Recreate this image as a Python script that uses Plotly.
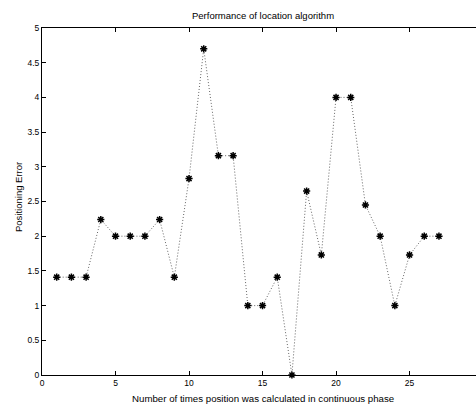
import plotly.graph_objects as go

x_vals = list(range(1, 28))
errors = [1.41, 1.41, 1.41, 2.24, 2.0, 2.0, 2.0, 2.24, 1.41, 2.83, 4.70, 3.16, 3.16,
          1.0, 1.0, 1.41, 0.0, 2.65, 1.73, 4.0, 4.0, 2.45, 2.0, 1.0, 1.73, 2.0, 2.0]

title_text = "Performance of location algorithm"
x_label = "Number of times position was calculated in continuous phase"
y_label = "Positioning Error"

fig = go.Figure()
fig.add_trace(go.Scatter(
    x=x_vals, y=errors, mode="lines+markers",
    line=dict(color="#666666", width=1, dash="1px,2px"),
    marker=dict(symbol="asterisk-open", size=6, color="black",
                line=dict(color="black", width=1.5)),
    cliponaxis=False, showlegend=False, hoverinfo="skip",
))

fam = "Liberation Sans, Arial, sans-serif"
font = dict(family=fam, size=8, color="black")

fig.update_layout(
    width=476, height=405,
    margin=dict(l=42, r=0, t=28, b=30, autoexpand=False),
    paper_bgcolor="white", plot_bgcolor="white",
    font=font,
    xaxis=dict(range=[0, 29.52], tickmode="array", tickvals=[0, 5, 10, 15, 20, 25],
               ticks="inside", ticklen=4, tickcolor="black", showline=True,
               linecolor="black", linewidth=1, mirror="ticks", showgrid=False,
               zeroline=False, tickfont=dict(size=8.5), automargin=False),
    yaxis=dict(range=[0, 5], dtick=0.5, tick0=0, ticks="inside", ticklen=4,
               tickcolor="black", showline=True, linecolor="black", linewidth=1,
               showgrid=False, zeroline=False, tickfont=dict(size=8.5), automargin=False),
    annotations=[
        dict(text=title_text, xref="paper", yref="paper", x=(262.5 - 42) / 434,
             y=1 + (28 - 15) / 347, xanchor="center", yanchor="middle",
             showarrow=False, font=dict(family=fam, size=9.5, color="black")),
        dict(text=x_label, xref="paper", yref="paper", x=(262.5 - 42) / 434,
             y=-(398.5 - 375) / 347, xanchor="center", yanchor="middle",
             showarrow=False, font=dict(family=fam, size=9.7, color="black")),
        dict(text=y_label, xref="paper", yref="paper", x=-(42 - 18) / 434,
             y=(375 - 197) / 347, xanchor="center", yanchor="middle", textangle=-90,
             showarrow=False, font=dict(family=fam, size=9.5, color="black")),
    ],
)

fig.write_html("out.html", config={"displayModeBar": False},
               post_script="document.body.style.margin='0';document.body.style.overflow='hidden';")
